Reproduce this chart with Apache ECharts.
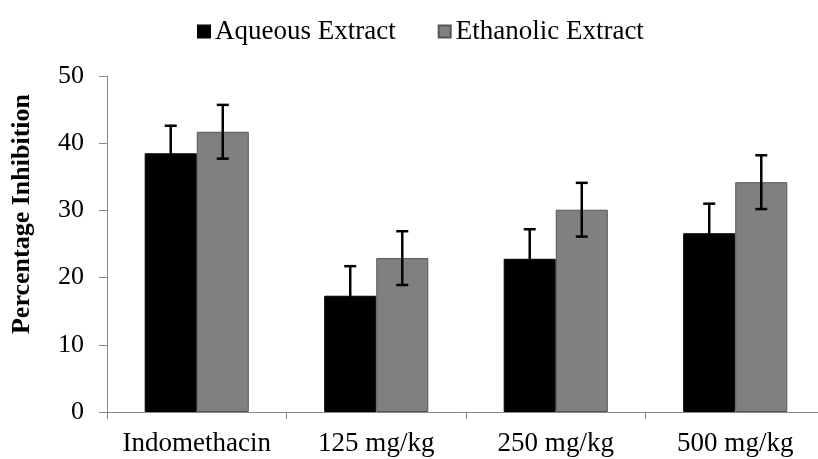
<!DOCTYPE html>
<html>
<head>
<meta charset="UTF-8">
<title>Percentage Inhibition</title>
<script src="https://cdn.jsdelivr.net/npm/echarts@6/dist/echarts.min.js"></script>
<style>
html, body { margin: 0; padding: 0; background: #fff; }
#chart { width: 818px; height: 459px; }
</style>
</head>
<body>
<div id="chart"></div>
<script>
// data
var categories = ['Indomethacin', '125 mg/kg', '250 mg/kg', '500 mg/kg'];
var aqueous = [38.5, 17.3, 22.8, 26.6];
var aqueousErr = [4.1, 4.4, 4.4, 4.4];
var ethanolic = [41.7, 22.9, 30.1, 34.2];
var ethanolicErr = [4.0, 4.0, 4.0, 4.0];
var yTicks = [0, 10, 20, 30, 40, 50];

var font = '"Liberation Serif", "Times New Roman", serif';
var gapRatio = 0.42;

var chart = echarts.init(document.getElementById('chart'));

// error bars: side = -1 for left bar, +1 for right bar
function errorSeries(values, errs, side) {
  return {
    type: 'custom',
    silent: true,
    z: 10,
    data: values.map(function (v, i) { return [i, v, errs[i]]; }),
    renderItem: function (params, api) {
      var i = api.value(0), v = api.value(1), e = api.value(2);
      var band = api.size([1, 0])[0];
      var bw = band * (1 - gapRatio) / 2;
      var c = api.coord([i, v]);
      var x = c[0] + side * bw / 2;
      var top = api.coord([i, v + e])[1];
      var bot = api.coord([i, v - e])[1];
      var cap = 6;
      var st = { stroke: '#000', lineWidth: 2.5 };
      return {
        type: 'group',
        children: [
          { type: 'line', shape: { x1: x, y1: top, x2: x, y2: bot }, style: st },
          { type: 'line', shape: { x1: x - cap, y1: top, x2: x + cap, y2: top }, style: st },
          { type: 'line', shape: { x1: x - cap, y1: bot, x2: x + cap, y2: bot }, style: st }
        ]
      };
    }
  };
}

var option = {
  animation: false,
  backgroundColor: '#fff',
  legend: {
    top: 13,
    left: 192,
    icon: 'rect',
    itemWidth: 12,
    itemHeight: 12,
    itemGap: 42,
    textStyle: { fontFamily: font, fontSize: 27, color: '#000' },
    data: ['Aqueous Extract', 'Ethanolic Extract']
  },
  grid: { left: 107, top: 76, width: 718, bottom: 47, outerBoundsMode: 'none', containLabel: false },
  xAxis: {
    type: 'category',
    data: categories,
    axisLine: { lineStyle: { color: '#888', width: 1 } },
    axisTick: { show: true, length: 7, lineStyle: { color: '#888' } },
    axisLabel: { color: '#000', fontFamily: font, fontSize: 27, margin: 18, interval: 0 }
  },
  yAxis: {
    type: 'value',
    min: yTicks[0],
    max: yTicks[yTicks.length - 1],
    interval: 10,
    name: 'Percentage Inhibition',
    nameLocation: 'middle',
    nameRotate: 90,
    nameGap: 72,
    nameTextStyle: {
      fontFamily: font, fontSize: 26, fontWeight: 'bold', color: '#000',
      padding: [0, 0, 0, 60]
    },
    splitLine: { show: false },
    axisLine: { show: true, lineStyle: { color: '#888', width: 1 } },
    axisTick: { show: true, length: 8, lineStyle: { color: '#888' } },
    axisLabel: { color: '#000', fontFamily: font, fontSize: 26, margin: 23 }
  },
  series: [
    {
      name: 'Aqueous Extract',
      type: 'bar',
      data: aqueous,
      barGap: '0%',
      barCategoryGap: (gapRatio * 100) + '%',
      itemStyle: { color: '#000', borderColor: '#000', borderWidth: 1 }
    },
    {
      name: 'Ethanolic Extract',
      type: 'bar',
      data: ethanolic,
      itemStyle: { color: '#808080', borderColor: '#555', borderWidth: 1 }
    },
    errorSeries(aqueous, aqueousErr, -1),
    errorSeries(ethanolic, ethanolicErr, 1)
  ]
};

chart.setOption(option);
window.addEventListener('resize', function () {
  chart.resize();
});
</script>
</body>
</html>
